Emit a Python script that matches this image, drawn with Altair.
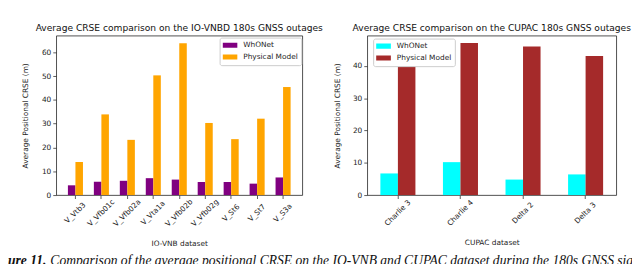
import altair as alt
import pandas as pd

models = ["WhONet", "Physical Model"]

io_datasets = ["V_Vtb3", "V_Vfb01c", "V_Vfb02a", "V_Vta1a", "V_Vfb02b",
               "V_Vfb02g", "V_St6", "V_St7", "V_S3a"]
io_whonet = [4.1, 5.6, 6.0, 7.1, 6.5, 5.5, 5.5, 4.8, 7.4]
io_physical = [13.9, 33.9, 23.2, 50.3, 63.8, 30.3, 23.5, 32.1, 45.4]

cupac_datasets = ["Charlie 3", "Charlie 4", "Delta 2", "Delta 3"]
cupac_whonet = [6.7, 10.2, 4.8, 6.4]
cupac_physical = [44.2, 47.1, 46.0, 43.1]

io_colors = ["#800080", "#FFA500"]
cupac_colors = ["#00FFFF", "#A52A2A"]

caption_bold = "Figure 11."
caption_rest = ("Comparison of the average positional CRSE on the IO-VNB and CUPAC "
                "dataset during the 180s GNSS signal outage.")


def long_df(names, a, b):
    rows = []
    for n, va, vb in zip(names, a, b):
        rows.append({"dataset": n, "model": models[0], "value": va})
        rows.append({"dataset": n, "model": models[1], "value": vb})
    return pd.DataFrame(rows)


FONT = "DejaVu Sans"
rect_path = "M-1,-0.35H1V0.35H-1Z"
W_L, W_R, H = 250, 253, 162


def panel(df, order, colors, xtitle, ydom, yticks, pin, pout, lx, ly, xtitle_y, ytitle_x):
    return alt.Chart(df).mark_bar().encode(
        x=alt.X("dataset:N", sort=order,
                scale=alt.Scale(paddingInner=pin, paddingOuter=pout),
                axis=alt.Axis(title=xtitle, labelAngle=-45, labelAlign="center",
                              labelBaseline="middle", labelPadding=14.5,
                              titleY=xtitle_y, titleBaseline="middle")),
        xOffset=alt.XOffset("model:N", sort=models,
                            scale=alt.Scale(domain=models, paddingInner=0, paddingOuter=0)),
        y=alt.Y("value:Q", scale=alt.Scale(domain=ydom, nice=False, zero=True),
                axis=alt.Axis(title="Average Positional CRSE (m)", values=yticks,
                              titleX=ytitle_x, titleBaseline="middle", titleAlign="center")),
        color=alt.Color("model:N", sort=models,
                        scale=alt.Scale(domain=models, range=colors),
                        legend=alt.Legend(title=None, orient="none", legendX=lx, legendY=ly,
                                          fillColor="white", strokeColor="#cccccc",
                                          cornerRadius=2, padding=3, rowPadding=2,
                                          clipHeight=9.5,
                                          symbolType=rect_path, symbolSize=225,
                                          symbolStrokeWidth=0, labelFont=FONT,
                                          labelFontSize=7.5, labelColor="#222222",
                                          labelOffset=6)),
    )


def frame_rule(xpos):
    # invisible guide that fixes the drawing's left/right/bottom extent
    return alt.Chart(pd.DataFrame({"k": [0]})).mark_rule(opacity=0, strokeWidth=1).encode(
        x=alt.value(xpos), y=alt.value(0), y2=alt.value(H + 98))


io_df = long_df(io_datasets, io_whonet, io_physical)
cu_df = long_df(cupac_datasets, cupac_whonet, cupac_physical)

left_bars = panel(io_df, io_datasets, io_colors, "IO-VNB dataset", [0, 67],
                  [0, 10, 20, 30, 40, 50, 60], 0.42, 0.45, 166, 2, 49, -31.5)
right_bars = panel(cu_df, cupac_datasets, cupac_colors, "CUPAC dataset", [0, 49.4],
                   [0, 10, 20, 30, 40], 0.44, 0.21, 6, 3, 48, -30.5)

cap1 = alt.Chart(pd.DataFrame({"t": [caption_bold]})).mark_text(
    align="left", baseline="alphabetic", font="Liberation Serif", fontStyle="italic",
    fontWeight="bold", fontSize=13.8, color="#111111"
).encode(x=alt.value(-69), y=alt.value(233), text="t:N")

cap2 = alt.Chart(pd.DataFrame({"t": [caption_rest]})).mark_text(
    align="left", baseline="alphabetic", font="Liberation Serif", fontStyle="italic",
    fontSize=13.8, color="#111111"
).encode(x=alt.value(-6), y=alt.value(233), text="t:N")

title_kw = dict(font=FONT, fontSize=9.25, fontWeight="normal", anchor="middle",
                frame="group", offset=-5, baseline="alphabetic", color="#111111")

left = alt.layer(left_bars, cap1, cap2, frame_rule(-100)).properties(
    width=W_L, height=H,
    title=alt.Title("Average CRSE comparison on the IO-VNBD 180s GNSS outages", **title_kw))
right = alt.layer(right_bars, frame_rule(435)).properties(
    width=W_R, height=H,
    title=alt.Title("Average CRSE comparison on the  CUPAC 180s GNSS outages", **title_kw))

chart = alt.hconcat(left, right, spacing=66).resolve_scale(
    color="independent", y="independent", x="independent", xOffset="independent"
).properties(
    bounds="flush",
    padding={"left": -52, "top": 14, "right": -167, "bottom": -29},
).configure_view(
    stroke="#222222", strokeWidth=0.8
).configure_axis(
    labelFont=FONT, labelFontSize=7.5, labelColor="#222222",
    titleFont=FONT, titleFontSize=7.5, titleFontWeight="normal", titleColor="#222222",
    tickSize=3.5, tickColor="#333333", tickWidth=0.8, labelPadding=2,
    domain=False, grid=False
)

chart.save("out.html", embed_options={"renderer": "svg", "actions": False})
